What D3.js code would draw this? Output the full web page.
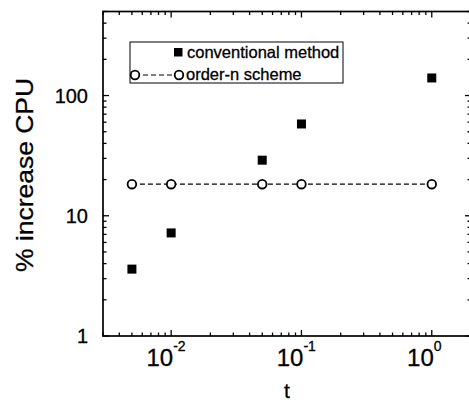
<!DOCTYPE html>
<html><head><meta charset="utf-8">
<script src="https://cdn.jsdelivr.net/npm/d3@7"></script>
<style>body{margin:0;background:#fff}svg{display:block}text{font-family:"Liberation Sans",Arial,Helvetica,sans-serif;fill:#000;stroke:#000;stroke-width:0.3px}</style>
</head><body>
<svg id="c" width="469" height="403"></svg>
<script>
const tValues = [0.005, 0.01, 0.05, 0.1, 1];
const conventional = [3.6, 7.2, 29, 58, 140];
const orderN = [18.3, 18.3, 18.3, 18.3, 18.3];
const xTickExps = ["-2", "-1", "0"];
const xTickVals = [0.01, 0.1, 1];
const yTickVals = [1, 10, 100];
const yTickLabels = ["1", "10", "100"];
const seriesNames = ["conventional method", "order-n scheme"];

const svg = d3.select("#c");
const x = d3.scaleLog().domain([0.003, 2]).range([103, 471]);
const y = d3.scaleLog().domain([1, 500]).range([336, 11.5]);

const minorX = [], minorY = [];
for (let e = -3; e <= 0; e++) for (let m = 1; m <= 9; m++) { const v = m * Math.pow(10, e); if (v >= 0.003 && v <= 2) minorX.push(v); }
for (let e = 0; e <= 2; e++) for (let m = 1; m <= 9; m++) { const v = m * Math.pow(10, e); if (v >= 1 && v <= 500) minorY.push(v); }
const isMajor = v => Math.abs(Math.log10(v) - Math.round(Math.log10(v))) < 1e-9;

const g = svg.append("g").attr("stroke", "#000").attr("stroke-width", 1.3);
g.append("rect").attr("x", x.range()[0]).attr("y", y.range()[1]).attr("width", x.range()[1] - x.range()[0]).attr("height", y.range()[0] - y.range()[1]).attr("fill", "none").attr("stroke-width", 1.7);
minorX.forEach(v => {
  const L = isMajor(v) ? 6 : 3.5;
  g.append("line").attr("x1", x(v)).attr("x2", x(v)).attr("y1", y.range()[0]).attr("y2", y.range()[0] - L);
  g.append("line").attr("x1", x(v)).attr("x2", x(v)).attr("y1", y.range()[1]).attr("y2", y.range()[1] + L);
});
minorY.forEach(v => {
  const L = isMajor(v) ? 6 : 3.5;
  g.append("line").attr("y1", y(v)).attr("y2", y(v)).attr("x1", x.range()[0]).attr("x2", x.range()[0] + L);
  g.append("line").attr("y1", y(v)).attr("y2", y(v)).attr("x1", x.range()[1]).attr("x2", x.range()[1] - L);
});

yTickVals.forEach((v, i) => {
  svg.append("text").attr("x", 88).attr("y", y(v) + 7).attr("text-anchor", "end").attr("font-size", 20).text(yTickLabels[i]);
});
xTickVals.forEach((v, i) => {
  svg.append("text").attr("x", x(v) + 2).attr("y", 366).attr("text-anchor", "end").attr("font-size", 24).text("10");
  svg.append("text").attr("x", x(v) + 2).attr("y", 351).attr("text-anchor", "start").attr("font-size", 14).text(xTickExps[i]);
});
svg.append("text").attr("x", 287).attr("y", 398).attr("text-anchor", "middle").attr("font-size", 21).text("t");
svg.append("text").attr("transform", "translate(33,175) rotate(-90)").attr("text-anchor", "middle").attr("font-size", 24)
  .attr("textLength", 194).attr("lengthAdjust", "spacingAndGlyphs").text("% increase CPU");

const line = d3.line().x((d, i) => x(tValues[i])).y(d => y(d));
svg.append("path").datum(orderN).attr("d", line).attr("fill", "none").attr("stroke", "#000").attr("stroke-width", 1.2).attr("stroke-dasharray", "5,3");
svg.selectAll(".circ").data(orderN).enter().append("circle").attr("cx", (d, i) => x(tValues[i])).attr("cy", d => y(d)).attr("r", 4.3)
  .attr("fill", "#fff").attr("stroke", "#000").attr("stroke-width", 1.8);
svg.selectAll(".sq").data(conventional).enter().append("rect").attr("x", (d, i) => x(tValues[i]) - 4.5).attr("y", d => y(d) - 4.5)
  .attr("width", 9).attr("height", 9).attr("fill", "#000");

const lg = svg.append("g");
lg.append("rect").attr("x", 130).attr("y", 42).attr("width", 213).attr("height", 41).attr("fill", "#fff").attr("stroke", "#000").attr("stroke-width", 1);
lg.append("rect").attr("x", 174).attr("y", 48).attr("width", 8.5).attr("height", 8.5).attr("fill", "#000");
lg.append("text").attr("x", 187).attr("y", 58).attr("font-size", 16.5).text(seriesNames[0]);
lg.append("line").attr("x1", 135).attr("x2", 179).attr("y1", 75).attr("y2", 75).attr("stroke", "#000").attr("stroke-dasharray", "5,3").attr("stroke-width", 1.2);
[135, 179].forEach(cx => lg.append("circle").attr("cx", cx).attr("cy", 75).attr("r", 4.3).attr("fill", "#fff").attr("stroke", "#000").attr("stroke-width", 1.8));
lg.append("text").attr("x", 186).attr("y", 80).attr("font-size", 16.5).text(seriesNames[1]);
</script>
</body></html>
